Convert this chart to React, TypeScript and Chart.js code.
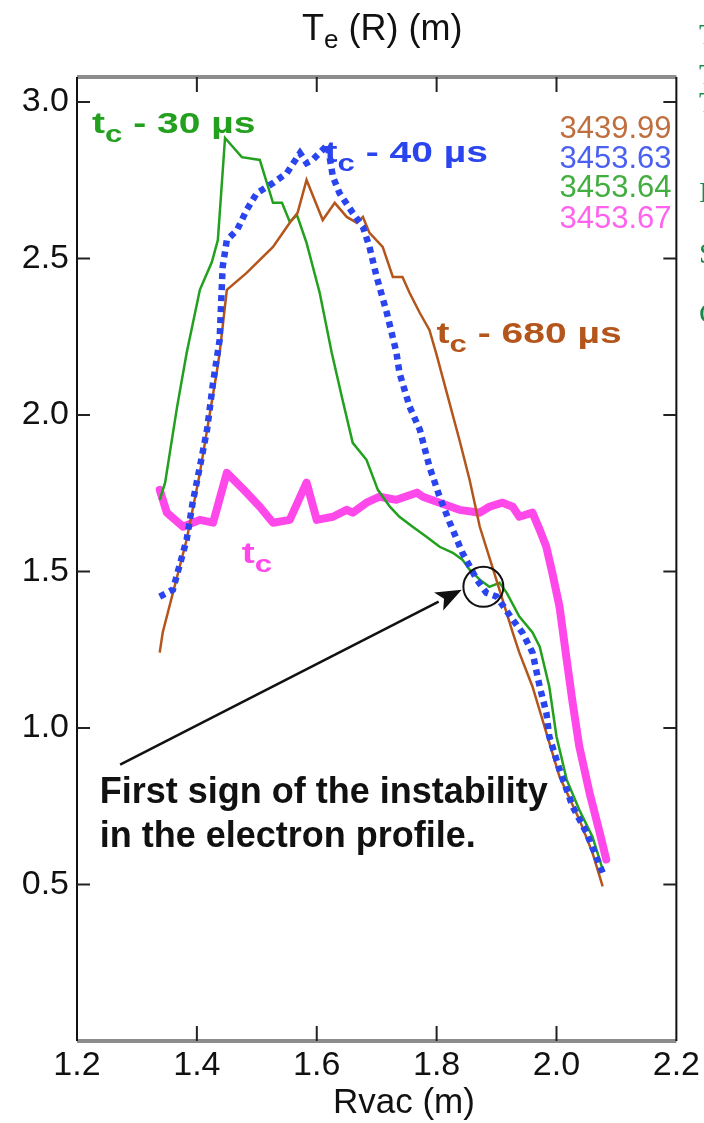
import React, { useEffect, useRef } from "react";
import { Chart, registerables } from "chart.js";

Chart.register(...registerables);

// ---- axis ticks ----
const X_TICKS = [1.2, 1.4, 1.6, 1.8, 2.0, 2.2];
const Y_TICKS = [0.5, 1.0, 1.5, 2.0, 2.5, 3.0];
const X_MIN = 1.2;
const X_MAX = 2.2;
const Y_MIN = 0;
const Y_MAX = 3.08;

// ---- shot labels (legend, top right) ----
const SHOT_LABELS = ["3439.99", "3453.63", "3453.64", "3453.67"];

// ---- brown: 3439.99 (tc - 680 µs) ----
const brownR = [1.338, 1.343, 1.383, 1.405, 1.433, 1.438, 1.450, 1.483, 1.527, 1.555, 1.568, 1.583, 1.610, 1.630, 1.650, 1.667, 1.677, 1.688, 1.710, 1.727, 1.743, 1.755, 1.772, 1.788, 1.800, 1.817, 1.838, 1.855, 1.872, 1.893, 1.910, 1.927, 1.938, 1.960, 1.983, 2.005, 2.038, 2.060, 2.077];
const brownTe = [1.241, 1.305, 1.602, 1.815, 2.135, 2.199, 2.400, 2.454, 2.537, 2.614, 2.646, 2.751, 2.623, 2.678, 2.633, 2.614, 2.633, 2.582, 2.537, 2.441, 2.441, 2.390, 2.326, 2.272, 2.192, 2.071, 1.921, 1.793, 1.643, 1.515, 1.410, 1.305, 1.241, 1.132, 0.985, 0.845, 0.708, 0.602, 0.494];

// ---- blue: 3453.63 (tc - 40 µs) ----
const blueR = [1.338, 1.360, 1.383, 1.393, 1.405, 1.417, 1.427, 1.438, 1.440, 1.443, 1.450, 1.467, 1.483, 1.500, 1.527, 1.550, 1.572, 1.583, 1.593, 1.618, 1.627, 1.638, 1.660, 1.677, 1.688, 1.700, 1.717, 1.733, 1.738, 1.755, 1.772, 1.788, 1.805, 1.822, 1.843, 1.867, 1.883, 1.900, 1.927, 1.943, 1.960, 1.972, 1.983, 1.988, 2.005, 2.027, 2.050, 2.077];
const blueTe = [1.420, 1.442, 1.602, 1.720, 1.835, 1.953, 2.103, 2.240, 2.336, 2.473, 2.559, 2.591, 2.655, 2.709, 2.741, 2.773, 2.837, 2.805, 2.815, 2.863, 2.761, 2.709, 2.646, 2.601, 2.537, 2.441, 2.326, 2.199, 2.135, 2.026, 1.953, 1.835, 1.739, 1.656, 1.560, 1.474, 1.432, 1.420, 1.346, 1.305, 1.241, 1.132, 1.049, 0.973, 0.867, 0.749, 0.666, 0.538];

// ---- green: 3453.64 (tc - 30 µs) ----
const greenR = [1.338, 1.347, 1.367, 1.383, 1.405, 1.425, 1.435, 1.447, 1.475, 1.505, 1.527, 1.542, 1.555, 1.567, 1.583, 1.605, 1.625, 1.643, 1.660, 1.683, 1.702, 1.722, 1.738, 1.760, 1.783, 1.805, 1.827, 1.843, 1.855, 1.872, 1.888, 1.905, 1.917, 1.938, 1.960, 1.972, 1.988, 2.000, 2.017, 2.038, 2.060, 2.077];
const greenTe = [1.729, 1.784, 2.026, 2.199, 2.400, 2.489, 2.559, 2.885, 2.824, 2.815, 2.678, 2.678, 2.617, 2.639, 2.550, 2.390, 2.199, 2.049, 1.911, 1.857, 1.761, 1.707, 1.675, 1.643, 1.611, 1.579, 1.560, 1.538, 1.506, 1.474, 1.451, 1.464, 1.432, 1.356, 1.305, 1.260, 1.132, 0.973, 0.835, 0.739, 0.653, 0.548];

// ---- pink: 3453.67 (tc) ----
const pinkR = [1.338, 1.350, 1.377, 1.405, 1.427, 1.450, 1.483, 1.505, 1.527, 1.555, 1.583, 1.600, 1.627, 1.650, 1.660, 1.683, 1.705, 1.733, 1.767, 1.777, 1.805, 1.838, 1.872, 1.888, 1.910, 1.927, 1.938, 1.960, 1.972, 1.983, 1.993, 2.005, 2.017, 2.027, 2.038, 2.055, 2.072, 2.083];
const pinkTe = [1.761, 1.688, 1.643, 1.665, 1.656, 1.815, 1.752, 1.707, 1.656, 1.665, 1.784, 1.665, 1.675, 1.697, 1.688, 1.720, 1.739, 1.729, 1.752, 1.739, 1.720, 1.697, 1.688, 1.707, 1.720, 1.707, 1.675, 1.688, 1.633, 1.579, 1.496, 1.388, 1.218, 1.080, 0.941, 0.794, 0.666, 0.580];

// ---- annotation anchors (data coordinates) ----
const CURVE_LABELS = [
  { rest: " - 30 µs", at: [1.225, 2.901], color: "#22a01e" },
  { rest: " - 40 µs", at: [1.613, 2.808], color: "#2a44ee" },
  { rest: " - 680 µs", at: [1.800, 2.231], color: "#b4561c" },
  { rest: "", at: [1.475, 1.528], color: "#ff48ea" },
];
const LEGEND_RIGHT_X = 2.192;
const LEGEND_Y = [2.885, 2.789, 2.697, 2.598];
const NOTE_LINES = ["First sign of the instability", "in the electron profile."];
const NOTE_AT = [1.238, 0.762];
const NOTE_LINE2_Y = 0.621;
const ARROW_FROM = [1.272, 0.883];
const ARROW_TO = [1.842, 1.442];
const CIRCLE_AT = [1.878, 1.451];

const COLORS = {
  brown: "#b4561c",
  blue: "#2a44ee",
  green: "#22a01e",
  pink: "#ff48ea",
};

const SANS = '"Liberation Sans", Arial, Helvetica, sans-serif';
const SERIF = '"Liberation Serif", "Times New Roman", serif';

const toPts = (xs: number[], ys: number[]) => xs.map((x, i) => ({ x, y: ys[i] }));

function drawTc(ctx: CanvasRenderingContext2D, x0: number, base: number, rest: string, color: string, size: number, sx: number) {
  ctx.save();
  ctx.translate(x0, base);
  ctx.scale(sx, 1);
  ctx.fillStyle = color;
  ctx.textAlign = "left";
  ctx.textBaseline = "alphabetic";
  ctx.font = `bold ${size}px ${SANS}`;
  ctx.fillText("t", 0, 0);
  let w = ctx.measureText("t").width;
  const sub = Math.round(size * 0.8);
  ctx.font = `bold ${sub}px ${SANS}`;
  ctx.fillText("c", w, size * 0.3);
  w += ctx.measureText("c").width;
  if (rest) {
    ctx.font = `bold ${size}px ${SANS}`;
    ctx.fillText(rest, w, 0);
  }
  ctx.restore();
}

const decorPlugin = {
  id: "decor",
  afterDraw(chart: any) {
    const { ctx, chartArea, scales } = chart;
    const { left, right, top, bottom } = chartArea;
    const xs = scales.x;
    const ys = scales.y;
    const px = (v: number) => xs.getPixelForValue(v);
    const py = (v: number) => ys.getPixelForValue(v);
    ctx.save();

    // frame
    ctx.strokeStyle = "#8c8c8c";
    ctx.lineWidth = 4;
    ctx.beginPath();
    ctx.moveTo(left, top);
    ctx.lineTo(right, top);
    ctx.moveTo(left, bottom);
    ctx.lineTo(right, bottom);
    ctx.stroke();
    ctx.strokeStyle = "#111";
    ctx.lineWidth = 2;
    ctx.beginPath();
    ctx.moveTo(left, top);
    ctx.lineTo(left, bottom);
    ctx.moveTo(right, top);
    ctx.lineTo(right, bottom);
    ctx.stroke();

    // inward ticks
    ctx.strokeStyle = "#222";
    ctx.lineWidth = 2;
    ctx.beginPath();
    X_TICKS.slice(1, -1).forEach((v) => {
      const p = px(v);
      ctx.moveTo(p, top);
      ctx.lineTo(p, top + 15);
      ctx.moveTo(p, bottom);
      ctx.lineTo(p, bottom - 15);
    });
    Y_TICKS.forEach((v) => {
      const p = py(v);
      ctx.moveTo(left, p);
      ctx.lineTo(left + 13, p);
      ctx.moveTo(right, p);
      ctx.lineTo(right - 13, p);
    });
    ctx.stroke();

    // title  T_e (R) (m)
    ctx.fillStyle = "#111";
    ctx.textAlign = "left";
    ctx.textBaseline = "alphabetic";
    ctx.font = `36px ${SANS}`;
    let tx = 302;
    ctx.fillText("T", tx, 40);
    tx += ctx.measureText("T").width;
    ctx.font = `26px ${SANS}`;
    ctx.fillText("e", tx, 48);
    tx += ctx.measureText("e").width;
    ctx.font = `36px ${SANS}`;
    ctx.fillText(" (R) (m)", tx, 40);

    // x title
    ctx.font = `35px ${SANS}`;
    ctx.fillText("Rvac (m)", 333, 1113);

    // curve labels
    CURVE_LABELS.forEach((l) => {
      drawTc(ctx, px(l.at[0]), py(l.at[1]), l.rest, l.color, 30, 1.3);
    });

    // shot legend
    ctx.textAlign = "right";
    ctx.font = `31px ${SANS}`;
    const legendColors = [COLORS.brown, COLORS.blue, COLORS.green, COLORS.pink];
    SHOT_LABELS.forEach((s, i) => {
      ctx.fillStyle = legendColors[i];
      ctx.globalAlpha = 0.85;
      ctx.fillText(s, px(LEGEND_RIGHT_X), py(LEGEND_Y[i]));
    });
    ctx.globalAlpha = 1;

    // note text
    ctx.textAlign = "left";
    ctx.fillStyle = "#111";
    ctx.font = `bold 36px ${SANS}`;
    ctx.fillText(NOTE_LINES[0], px(NOTE_AT[0]), py(NOTE_AT[1]));
    ctx.fillText(NOTE_LINES[1], px(NOTE_AT[0]), py(NOTE_LINE2_Y));

    // arrow
    const ax0 = px(ARROW_FROM[0]);
    const ay0 = py(ARROW_FROM[1]);
    const ax1 = px(ARROW_TO[0]);
    const ay1 = py(ARROW_TO[1]);
    const ang = Math.atan2(ay1 - ay0, ax1 - ax0);
    const headL = 26;
    const headW = 10;
    const bx = ax1 - headL * Math.cos(ang);
    const by = ay1 - headL * Math.sin(ang);
    ctx.strokeStyle = "#111";
    ctx.lineWidth = 2.5;
    ctx.beginPath();
    ctx.moveTo(ax0, ay0);
    ctx.lineTo(bx, by);
    ctx.stroke();
    ctx.beginPath();
    ctx.moveTo(ax1, ay1);
    ctx.lineTo(bx + headW * Math.sin(ang), by - headW * Math.cos(ang));
    ctx.lineTo(bx + 6 * Math.cos(ang), by + 6 * Math.sin(ang));
    ctx.lineTo(bx - headW * Math.sin(ang), by + headW * Math.cos(ang));
    ctx.closePath();
    ctx.fill();

    // circle
    ctx.lineWidth = 2;
    ctx.beginPath();
    ctx.arc(px(CIRCLE_AT[0]), py(CIRCLE_AT[1]), 20, 0, Math.PI * 2);
    ctx.stroke();

    // clipped neighbouring text at right edge
    ctx.fillStyle = "#17894a";
    ctx.font = `30px ${SERIF}`;
    ctx.textAlign = "left";
    [["T", 44], ["T", 84], ["T", 112], ["I", 202], ["S", 263], ["C", 323]].forEach(([ch, yy]) => {
      ctx.fillText(ch as string, 699, yy as number);
    });

    ctx.restore();
  },
};

export default function App() {
  const ref = useRef<HTMLCanvasElement | null>(null);
  useEffect(() => {
    if (!ref.current) return;
    const chart = new Chart(ref.current, {
      type: "line",
      data: {
        datasets: [
          {
            label: SHOT_LABELS[1],
            data: toPts(blueR, blueTe),
            borderColor: COLORS.blue,
            borderWidth: 6.5,
            borderDash: [6, 5],
            borderCapStyle: "butt",
            pointRadius: 0,
            tension: 0,
            order: 1,
          },
          {
            label: SHOT_LABELS[0],
            data: toPts(brownR, brownTe),
            borderColor: COLORS.brown,
            borderWidth: 2.5,
            pointRadius: 0,
            tension: 0,
            order: 2,
          },
          {
            label: SHOT_LABELS[2],
            data: toPts(greenR, greenTe),
            borderColor: COLORS.green,
            borderWidth: 2.5,
            pointRadius: 0,
            tension: 0,
            order: 3,
          },
          {
            label: SHOT_LABELS[3],
            data: toPts(pinkR, pinkTe),
            borderColor: COLORS.pink,
            borderWidth: 8,
            borderJoinStyle: "round",
            borderCapStyle: "round",
            pointRadius: 0,
            tension: 0,
            order: 4,
          },
        ] as any,
      },
      options: {
        responsive: false,
        devicePixelRatio: 1,
        animation: false,
        layout: { padding: { left: 0, top: 77, right: 27, bottom: 0 } },
        plugins: { legend: { display: false }, tooltip: { enabled: false } },
        scales: {
          x: {
            type: "linear",
            min: X_MIN,
            max: X_MAX,
            afterBuildTicks: (s: any) => {
              s.ticks = X_TICKS.map((v) => ({ value: v }));
            },
            afterFit: (s: any) => {
              s.height = 82;
            },
            grid: { display: false, drawTicks: false },
            border: { display: false },
            ticks: {
              padding: 4,
              color: "#111",
              font: { family: SANS, size: 34 },
              callback: (v: any) => Number(v).toFixed(1),
            },
          },
          y: {
            type: "linear",
            min: Y_MIN,
            max: Y_MAX,
            afterBuildTicks: (s: any) => {
              s.ticks = Y_TICKS.map((v) => ({ value: v }));
            },
            afterFit: (s: any) => {
              s.width = 77;
            },
            grid: { display: false, drawTicks: false },
            border: { display: false },
            ticks: {
              padding: 8,
              color: "#111",
              font: { family: SANS, size: 34 },
              callback: (v: any) => Number(v).toFixed(1),
            },
          },
        },
      },
      plugins: [decorPlugin],
    } as any);
    return () => chart.destroy();
  }, []);
  return (
    <div style={{ position: "absolute", left: 0, top: 0, width: 704, height: 1123, background: "#fff", overflow: "hidden" }}>
      <canvas ref={ref} width={704} height={1123} style={{ display: "block" }} />
    </div>
  );
}
